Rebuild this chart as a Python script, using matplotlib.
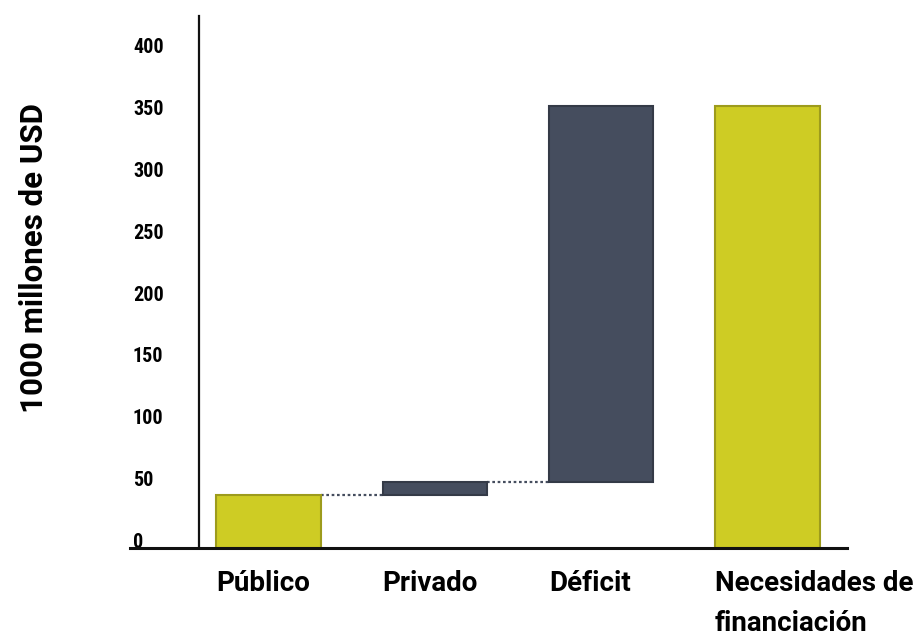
import matplotlib.pyplot as plt
from matplotlib.lines import Line2D

# Waterfall: financing needs (1000 millones de USD)
categories = ['Público', 'Privado', 'Déficit', 'Necesidades de\nfinanciación']
values = [43, 10, 304, 357]
kinds = ['total', 'step', 'step', 'total']
y_ticks = [0, 50, 100, 150, 200, 250, 300, 350, 400]

yellow, yellow_edge = '#cecc24', '#9d9b1c'
slate, slate_edge = '#454d5e', '#343a47'
narrow_font = ['Roboto Condensed', 'DejaVu Sans']
label_font = ['Roboto', 'DejaVu Sans']

fig = plt.figure(figsize=(9.22, 6.37), dpi=100)
ax = fig.add_axes([0.2158, 0.1397, 0.7029, 0.8352])

width = 0.63
bottoms = []
running = 0
for v, k in zip(values, kinds):
    if k == 'total':
        bottoms.append(0)
        running = v
    else:
        bottoms.append(running)
        running += v

xs = list(range(len(categories)))
colors = [yellow if k == 'total' else slate for k in kinds]
edges = [yellow_edge if k == 'total' else slate_edge for k in kinds]
ax.bar(xs, values, width=width, bottom=bottoms, color=colors,
       edgecolor=edges, linewidth=1.5, zorder=3)

# dotted connectors between first bars
for i in range(2):
    level = bottoms[i] + values[i]
    ax.plot([xs[i] + width / 2, xs[i + 1] - width / 2], [level, level],
            linestyle=(0, (1.2, 1.2)), color=slate, linewidth=1.6, zorder=2)

ax.set_xlim(-0.42, 3.48)
ax.set_ylim(0, 430)

ax.set_yticks(y_ticks)
ax.set_yticklabels([str(t) for t in y_ticks], family=narrow_font,
                   fontweight='bold', fontsize=14.5, ha='left', va='baseline')
ax.tick_params(axis='y', length=0, pad=47.5)

ax.set_xticks([x - width / 2 for x in xs])
ax.set_xticklabels(categories, family=label_font, fontweight='bold',
                   fontsize=20, ha='left', va='top', linespacing=1.6)
ax.tick_params(axis='x', length=0, pad=16)

ax.set_ylabel('1000 millones de USD', fontsize=22.5, fontweight='bold',
              family=label_font)
ax.yaxis.set_label_coords(-0.232, 0.545)

for s in ['top', 'right', 'bottom']:
    ax.spines[s].set_visible(False)
ax.spines['left'].set_linewidth(1.6)
ax.spines['left'].set_color('#111111')

# baseline extends under the "0" label
ax.add_line(Line2D([-0.107, 1.0], [0, 0], transform=ax.transAxes,
                   color='#111111', linewidth=2.2, clip_on=False, zorder=4))

fig.savefig('out.png', dpi=100)
